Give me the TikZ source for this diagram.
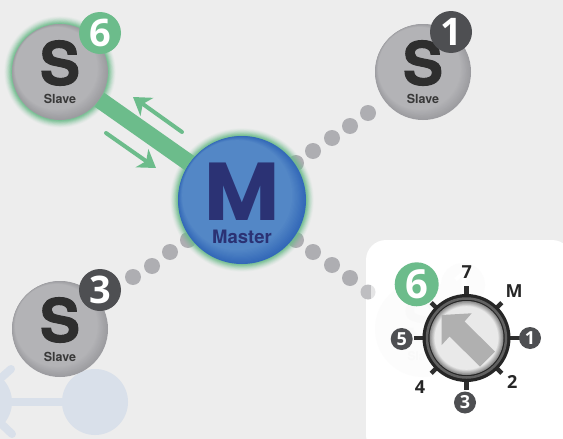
\documentclass[tikz,border=0pt]{standalone}
\usepackage{fontspec}
\setmainfont{Open Sans}
\newfontfamily\popp{Poppins}
\newfontfamily\helv{TeX Gyre Heros}
\newfontfamily\helvh[BoldFeatures={FakeBold=1.6}]{TeX Gyre Heros}
\usetikzlibrary{arrows.meta}
\definecolor{bgc}{HTML}{EDEDED}
\definecolor{grn}{HTML}{6CBC8B}
\definecolor{dotc}{HTML}{AEAEB2}
\definecolor{badgec}{HTML}{4E4F52}
\definecolor{navy}{HTML}{2B3274}
\definecolor{iconc}{HTML}{D9E0EA}
\definecolor{slvA}{HTML}{B3B3B6}\definecolor{slvC}{HTML}{9C9CA0}
\definecolor{mstA}{HTML}{5387C6}\definecolor{mstC}{HTML}{3368B8}
\definecolor{knbA}{HTML}{E9E9E9}\definecolor{knbC}{HTML}{8A8A8A}
\tikzset{
  x=1pt,y=-1pt,
  dotn/.style={circle,fill=dotc,minimum size=16pt,inner sep=0pt},
  ball/.style={circle,fill=slvC,minimum size=96pt,inner sep=0pt},
  mball/.style={circle,fill=mstC,minimum size=128pt,inner sep=0pt},
  badge/.style={circle,fill=badgec,text=white,minimum size=42pt,inner sep=0pt,font=\bfseries\fontsize{38}{38}\selectfont},
  gbadge/.style={badge,fill=grn},
  smallb/.style={circle,fill=badgec,text=white,minimum size=22pt,inner sep=0pt,font=\bfseries\fontsize{18}{18}\selectfont},
  dial/.style={text=black!85,inner sep=0pt,font=\bfseries\fontsize{18}{18}\selectfont},
  bigS/.style={inner sep=0pt,text=black!82,font=\helvh\bfseries\fontsize{60}{60}\selectfont},
  slabel/.style={inner sep=0pt,text=black!78,font=\helv\bfseries\fontsize{12.5}{13}\selectfont},
  flow/.style={draw=grn,line width=4pt,line cap=round,-{Stealth[length=17pt,width=22pt,inset=5pt]}},
  tick/.style={draw=black!82,line width=4.5pt},
}
\newcommand{\glowat}[3]{%
  \foreach \g/\op in {9/.05,8/.07,7/.09,6/.12,5/.15,4/.2,3/.28,2/.35,1/.45}{
    \fill[grn,opacity=\op] (#1,#2) circle ({#3+\g*0.85});}}
\newcommand{\bevel}[5]{%
  \foreach \t in {1,...,12}{
    \pgfmathsetmacro{\pc}{\t*100/12}
    \pgfmathsetmacro{\rr}{#3*(1-0.14*\t/12)}
    \pgfmathsetmacro{\sh}{#3*0.075*\t/12}
    \fill[#5!\pc!#4] ({#1-\sh},{#2-\sh}) circle (\rr);}}
\begin{document}
\begin{tikzpicture}
\useasboundingbox (0,0) rectangle (563,439);
\fill[bgc] (0,0) rectangle (563,439);
\begin{scope}
\clip (0,0) rectangle (563,439);
\fill[iconc] (-21,402) circle (33);
\draw[iconc,line width=8pt,line cap=round] (11,369) -- (-8,386);
\draw[iconc,line width=8pt,line cap=round] (12,434) -- (-8,415);
\draw[iconc,line width=8pt] (0,402) -- (70,402);
\node[circle,fill=iconc,minimum size=66pt,inner sep=0pt] (ic) at (95,402) {};
\end{scope}
\node[dotn] (d1) at (296,163) {};
\node[dotn] (d2) at (313,151) {};
\node[dotn] (d3) at (332,138) {};
\node[dotn] (d4) at (350,126) {};
\node[dotn] (d5) at (368,113) {};
\node[dotn] (d6) at (296,240) {};
\node[dotn] (d7) at (313,252) {};
\node[dotn] (d8) at (332,265) {};
\node[dotn] (d9) at (350,278) {};
\node[dotn] (d10) at (188,240) {};
\node[dotn] (d11) at (170,252) {};
\node[dotn] (d12) at (152,266) {};
\node[dotn] (d13) at (133,277) {};
\glowat{60}{72}{48}
\node[ball] (s6) at (60,72) {};
\bevel{60}{72}{48}{slvC}{slvA}
\node[bigS] at (60,63) {S};
\node[slabel] at (60,99) {Slave};
\node[gbadge] (b6) at (100,33) {6};
\node[ball] (s1) at (423,72) {};
\bevel{423}{72}{48}{slvC}{slvA}
\node[bigS] at (423,63) {S};
\node[slabel] at (423,99) {Slave};
\node[badge] (b1) at (451,32) {1};
\node[ball] (s3) at (60,329) {};
\bevel{60}{329}{48}{slvC}{slvA}
\node[bigS] at (60,320) {S};
\node[slabel] at (60,357) {Slave};
\node[badge] (b3) at (100,290) {3};
\coordinate (m0) at (242,200);
\draw[grn,line width=17pt] (s6) -- (m0);
\coordinate (a1s) at (182,132);\coordinate (a1e) at (133,97);
\coordinate (a2s) at (106,133);\coordinate (a2e) at (156,168);
\draw[flow] (a1s) -- (a1e);
\draw[flow] (a2s) -- (a2e);
\glowat{242}{200}{64}
\node[mball] (m) at (242,200) {};
\bevel{242}{200}{64}{mstC}{mstA}
\node[inner sep=0pt,text=navy,font=\popp\bfseries\fontsize{82}{82}\selectfont] (ml) at (242,192) {M};
\node[inner sep=0pt,text=navy,font=\helv\bfseries\fontsize{18.5}{19}\selectfont] at (242,237) {Master};
\fill[white,rounded corners=20pt] (366,240) rectangle (572,455);
\node[dotn,fill=dotc!80!white,minimum size=15pt] (d14) at (368,292) {};
\fill[white,opacity=.6] (371,282) rectangle (378,302);
\fill[black!1] (423,329) circle (48);
\fill[black!1] (463,285) circle (22);
\node[text=black!2.5,inner sep=0pt,font=\helv\bfseries\fontsize{58}{58}\selectfont] at (423,320) {S};
\node[text=black!2.5,inner sep=0pt,font=\helv\bfseries\fontsize{12}{12}\selectfont] at (423,356) {Slave};
\node[text=white,inner sep=0pt,font=\bfseries\fontsize{36}{36}\selectfont] at (463,285) {1};
\coordinate (k) at (466.5,338);
\foreach \a/\r in {0/53,45/50,90/52,135/50,180/53,225/50,270/52,315/50}{
  \draw[tick] (k) -- ++(\a:\r);
}
\fill[black!85] (k) circle (44);
\draw[black!62,line width=2.5pt] (k) circle (39.5);
\node[circle,fill=knbC,minimum size=74pt,inner sep=0pt] (kn) at (k) {};
\foreach \t in {1,...,8}{
  \pgfmathsetmacro{\pc}{\t*100/8}
  \fill[knbA!\pc!knbC] (k) circle ({37-\t*0.65});
}
\fill[gray!62!white] (441.7,315) -- (471.7,313.3) -- (464.6,321.4) -- (495,351.7) -- (480,366.7) -- (449.6,336.4) -- (441.7,345) -- cycle;
\node[gbadge,minimum size=44pt,font=\bfseries\fontsize{40}{40}\selectfont] (g6) at (416.7,284.3) {6};
\node[dial] at (466.7,272) {7};
\node[dial] at (514,291.5) {M};
\node[smallb] (n1) at (530,338) {1};
\node[dial] at (512.3,382) {2};
\node[smallb] (n3) at (465,402.5) {3};
\node[dial] at (420,387.5) {4};
\node[smallb] (n5) at (401.7,339) {5};
\end{tikzpicture}
\end{document}
